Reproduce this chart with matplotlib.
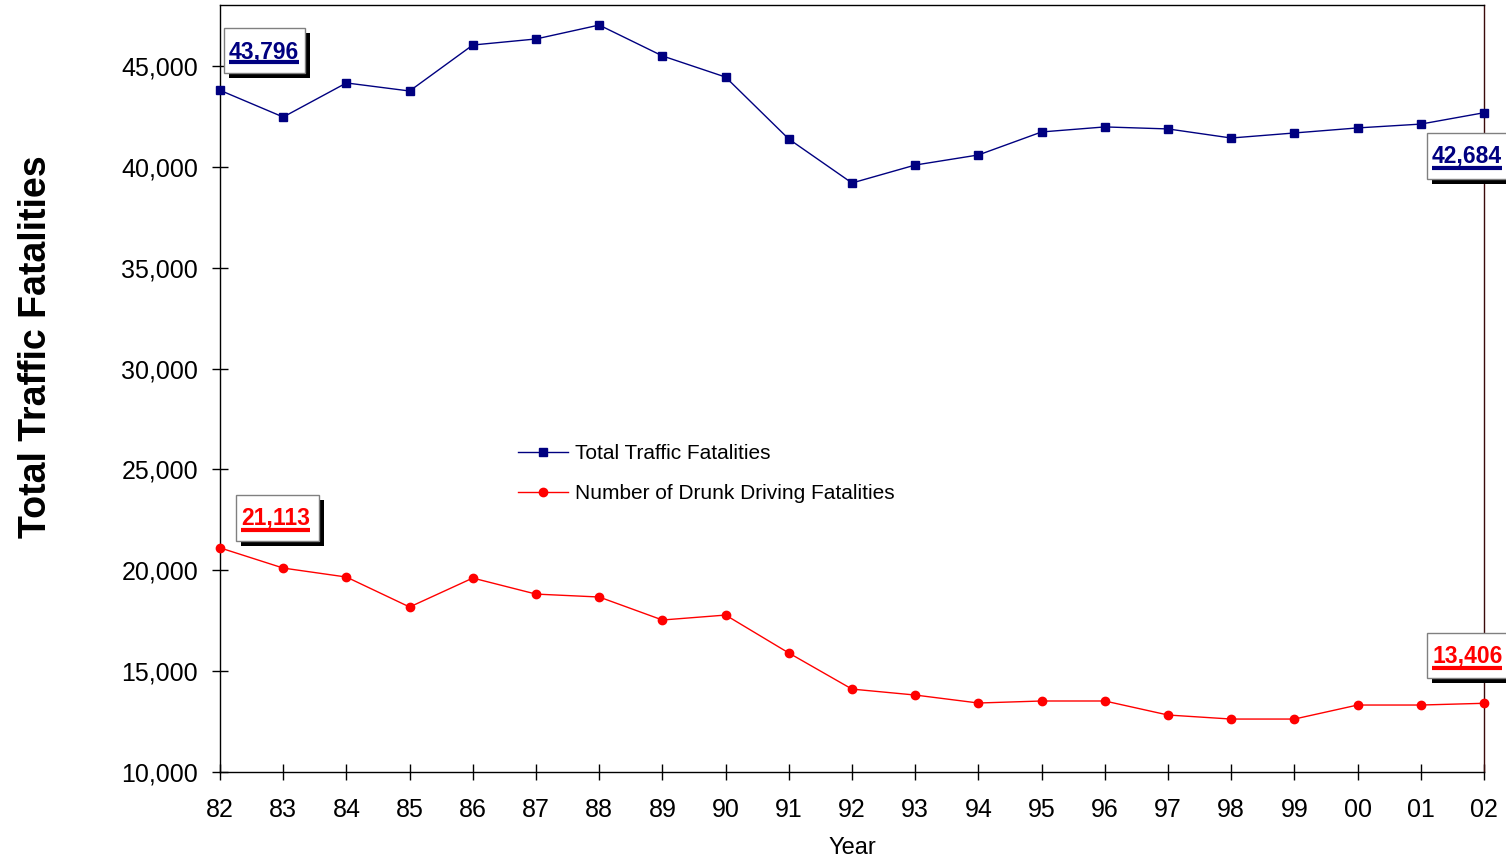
import matplotlib
matplotlib.use('Agg')
import matplotlib.pyplot as plt
from matplotlib.patches import Rectangle
from matplotlib.lines import Line2D
from matplotlib.ticker import FuncFormatter

plt.rcParams['font.family'] = ['Liberation Sans', 'DejaVu Sans']

years = ['82', '83', '84', '85', '86', '87', '88', '89', '90', '91', '92',
         '93', '94', '95', '96', '97', '98', '99', '00', '01', '02']
total = [43796, 42470, 44160, 43760, 46040, 46340, 47030, 45500, 44450, 41380, 39200,
         40090, 40590, 41730, 41980, 41880, 41430, 41680, 41930, 42120, 42684]
drunk = [21113, 20110, 19665, 18180, 19615, 18820, 18675, 17535, 17780, 15900, 14110,
         13815, 13420, 13520, 13520, 12825, 12625, 12625, 13320, 13320, 13406]

W, H = 1506, 860
fig = plt.figure(figsize=(W / 100, H / 100), dpi=100)
ax = fig.add_axes([220 / W, 1 - 772 / H, 1264 / W, 767 / H])

x = list(range(len(years)))
ax.plot(x, total, color='#000080', lw=1, marker='s', ms=6, label='Total Traffic Fatalities', clip_on=False, zorder=3)
ax.plot(x, drunk, color='#FF0000', lw=1, marker='o', ms=6, label='Number of Drunk Driving Fatalities', clip_on=False, zorder=3)

ax.set_xlim(0, 20)
ax.set_ylim(10000, 48024)
ax.set_xticks(x)
ax.set_xticklabels(years)
ax.set_yticks(range(10000, 45001, 5000))
ax.yaxis.set_major_formatter(FuncFormatter(lambda v, p: f'{int(v):,}'))
ax.tick_params(direction='inout', length=11.5, width=1, labelsize=18)
ax.tick_params(axis='x', pad=13)
ax.tick_params(axis='y', pad=10)
for s in ax.spines.values():
    s.set_linewidth(1)
ax.spines['right'].set_color('#3a0a0a')

ax.set_ylabel('Total Traffic Fatalities', fontsize=27, fontweight='bold')
ax.yaxis.set_label_coords(-0.131, 0.554)
ax.set_xlabel('Year', fontsize=17)
ax.xaxis.set_label_coords(0.5, -0.085)

ax.legend(loc='upper left', bbox_to_anchor=(0.221, 0.452), frameon=False, fontsize=15,
          handlelength=2.4, handletextpad=0.35, labelspacing=1.0)


def fx(px):
    return px / W


def fy(py):
    return 1 - py / H


def value_box(text, color, box, text_x, baseline, under_y):
    x0, y0, x1, y1 = box
    fig.patches.append(Rectangle((fx(x0 + 5), fy(y1 + 5)), fx(x1 - x0), (y1 - y0) / H,
                                 transform=fig.transFigure, facecolor='black', edgecolor='none', zorder=5))
    fig.patches.append(Rectangle((fx(x0), fy(y1)), fx(x1 - x0), (y1 - y0) / H,
                                 transform=fig.transFigure, facecolor='white', edgecolor='#808080', lw=1, zorder=6))
    t = fig.text(fx(text_x), fy(baseline), text, color=color, fontsize=16.5, fontweight='bold',
                 ha='left', va='baseline', zorder=7)
    fig.canvas.draw()
    bb = t.get_window_extent()
    fig.lines.append(Line2D([bb.x0 / W, bb.x1 / W], [fy(under_y), fy(under_y)], transform=fig.transFigure,
                            color=color, lw=3, zorder=7, solid_capstyle='butt'))


value_box('43,796', '#000080', (224, 28, 305, 73), 229, 58, 62)
value_box('42,684', '#000080', (1427, 133, 1540, 179), 1432, 163, 167.5)
value_box('21,113', '#FF0000', (236, 495, 319, 541), 241, 525, 530)
value_box('13,406', '#FF0000', (1427, 633, 1540, 678), 1432, 663, 668)

fig.savefig('out.png', dpi=100)
